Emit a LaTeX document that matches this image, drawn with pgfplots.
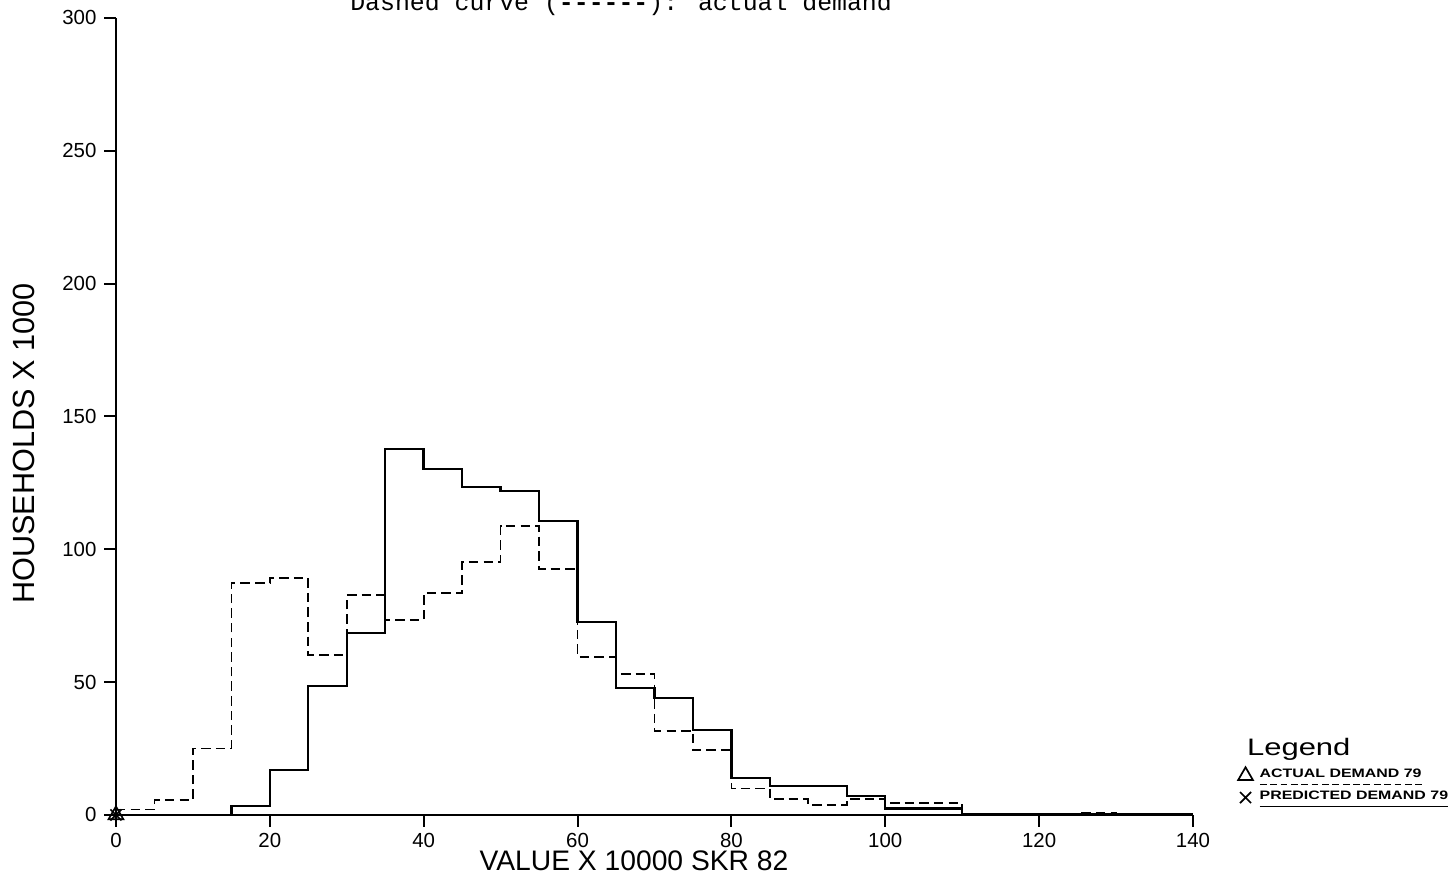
\documentclass[border=0pt]{standalone}
\usepackage{fontspec}
\setmainfont{Liberation Sans}
\newfontfamily\monofont{Liberation Mono}
\newfontfamily\legfont{Liberation Sans}[FakeStretch=1.3]
\usepackage{pgfplots}
\usepackage{pgfplotstable}
\pgfplotsset{compat=1.18}
\pgfplotsset{onemark legend/.style={legend image code/.code={\draw[##1] plot coordinates {(0.08cm,0cm)};}}}

% underlines for the legend texts (smashed, so the rows keep their height)
\newcommand{\dashul}[1]{\setbox0\hbox{#1}\rlap{\smash{\raisebox{-2.3pt}{\hbox to \wd0{\xleaders\hbox to 3pt{\rule{2pt}{0.35pt}\hss}\hfill}}}}\box0}
\newcommand{\solidul}[1]{\setbox0\hbox{#1}\rlap{\smash{\raisebox{-2.3pt}{\hbox to \wd0{\leaders\hrule height 0.35pt\hfill}}}}\box0}

% bin start (x 10000 SKR 82), predicted demand 79, actual demand 79
\pgfplotstableread{
x    pred   act
0    0      2
5    0      5.6
10   0      25
15   3.4    87.3
20   17     89.2
25   48.5   60.2
30   68.5   82.8
35   137.7  73.4
40   130.2  83.5
45   123.4  95.2
50   122    108.8
55   110.7  92.6
60   72.6   59.5
65   47.8   53
70   44     31.6
75   32     24.5
80   14     10
85   11     6
90   11     3.8
95   7.2    6
100  2.4    4.5
105  2.4    4.5
110  0.3    0.6
115  0.3    0.6
120  0.2    0.1
125  0.2    0.8
130  0.2    0.3
135  0.2    0.3
140  0.2    0.3
}\hist

\begin{document}
\begin{tikzpicture}
\begin{axis}[
    at={(0,0)}, anchor=south west,
    scale only axis,
    width=11.126cm, height=8.234cm,
    xmin=0, xmax=140, ymin=0, ymax=300,
    axis x line=bottom, axis y line=left,
    axis line style={-, line width=0.7pt},
    xtick={0,20,...,140}, ytick={0,50,...,300},
    tick align=outside, major tick length=0.12cm,
    tick style={black, line width=0.6pt},
    /pgf/number format/assume math mode=true,
    ticklabel style={font=\fontsize{6}{7}\selectfont},
    xticklabel style={yshift=1.5pt},
    yticklabel style={xshift=1.2pt},
    clip=false,
    every axis title shift=0pt,
    title={\monofont Dashed curve (\textbf{------}): actual demand},
    title style={at={(axis description cs:0.469,1.0087)}, anchor=base, inner sep=0pt,
        font=\fontsize{7.3}{8}\selectfont},
    xlabel={VALUE X 10000 SKR 82},
    xlabel style={at={(axis description cs:0.481,0)}, anchor=north, yshift=-0.36cm,
        inner sep=0pt, font=\fontsize{8.3}{10}\selectfont},
    ylabel={HOUSEHOLDS X 1000},
    ylabel style={at={(axis description cs:-0.0855,0.466)}, anchor=center,
        inner sep=0pt, font=\fontsize{9}{10}\selectfont},
    legend style={at={(axis description cs:1.041,0.099)}, anchor=north west,
        draw=none, fill=none, inner sep=0pt, row sep=1.6pt,
        nodes={inner xsep=2pt, inner ysep=0.4pt},
        font=\legfont\fontsize{3.6}{4.5}\selectfont\bfseries},
    legend cell align=left,
]
\addplot[const plot, forget plot, black, line width=0.7pt] table[x=x, y=pred] {\hist};
\addplot[const plot, forget plot, black, line width=0.5pt,
    dash pattern=on 2.8pt off 1.5pt] table[x=x, y=act] {\hist};

\addlegendimage{empty legend}
\addlegendentry{\hspace*{-1.3mm}\fontsize{7}{8}\selectfont\mdseries Legend}
\addplot[only marks, black, mark=triangle, mark size=2.5pt, line width=0.5pt,
    onemark legend] coordinates {(0,0)};
\addlegendentry{\dashul{ACTUAL DEMAND 79\,\,}}
\addplot[only marks, black, mark=x, mark size=2.3pt, line width=0.5pt,
    onemark legend] coordinates {(0,0)};
\addlegendentry{\solidul{PREDICTED DEMAND 79}}
\end{axis}
\pgfresetboundingbox
\path[use as bounding box] (-1.198,-0.713) rectangle (13.802,8.419);
\end{tikzpicture}
\end{document}
